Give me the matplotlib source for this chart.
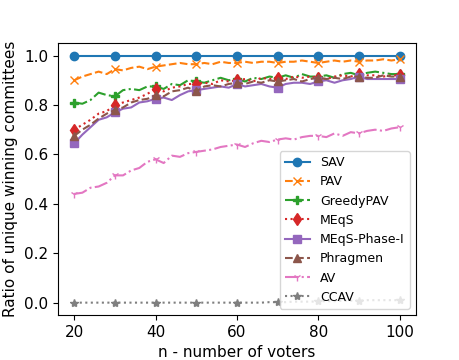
import numpy as np
import matplotlib
matplotlib.use("Agg")
import matplotlib.pyplot as plt

# number of voters (x axis)
n_voters = list(range(20, 101, 2))

# ratio of unique winning committees per rule
sav = [1.0, 1.0, 1.0, 1.0, 1.0, 1.0, 1.0, 1.0, 1.0, 1.0,
       1.0, 1.0, 1.0, 1.0, 1.0, 1.0, 1.0, 1.0, 1.0, 1.0,
       1.0, 1.0, 1.0, 1.0, 1.0, 1.0, 1.0, 1.0, 1.0, 1.0,
       1.0, 1.0, 1.0, 1.0, 1.0, 1.0, 1.0, 1.0, 1.0, 1.0, 1.0]
pav = [0.90, 0.915, 0.925, 0.935, 0.925, 0.945, 0.94, 0.95, 0.955, 0.945,
       0.955, 0.96, 0.965, 0.97, 0.965, 0.965, 0.97, 0.965, 0.975, 0.97,
       0.97, 0.975, 0.97, 0.975, 0.975, 0.97, 0.975, 0.975, 0.98, 0.975,
       0.97, 0.975, 0.98, 0.975, 0.98, 0.975, 0.98, 0.98, 0.985, 0.98, 0.985]
greedy_pav = [0.81, 0.805, 0.82, 0.85, 0.84, 0.835, 0.86, 0.865, 0.86, 0.875,
              0.875, 0.865, 0.885, 0.88, 0.9, 0.895, 0.89, 0.9, 0.91, 0.9,
              0.905, 0.895, 0.91, 0.905, 0.915, 0.91, 0.92, 0.91, 0.925, 0.915,
              0.915, 0.92, 0.91, 0.925, 0.93, 0.92, 0.93, 0.935, 0.93, 0.925, 0.925]
meqs = [0.70, 0.72, 0.74, 0.765, 0.775, 0.80, 0.81, 0.82, 0.83, 0.845,
        0.865, 0.855, 0.87, 0.875, 0.885, 0.885, 0.89, 0.885, 0.90, 0.895,
        0.90, 0.905, 0.895, 0.91, 0.905, 0.91, 0.905, 0.915, 0.91, 0.915,
        0.91, 0.905, 0.915, 0.92, 0.915, 0.925, 0.92, 0.92, 0.915, 0.92, 0.92]
meqs_phase1 = [0.645, 0.68, 0.71, 0.74, 0.75, 0.77, 0.785, 0.79, 0.81, 0.815,
               0.825, 0.83, 0.82, 0.84, 0.855, 0.86, 0.865, 0.87, 0.875, 0.87,
               0.885, 0.875, 0.88, 0.885, 0.875, 0.87, 0.885, 0.89, 0.89, 0.885,
               0.895, 0.90, 0.89, 0.90, 0.905, 0.915, 0.905, 0.905, 0.905, 0.905, 0.905]
phragmen = [0.675, 0.70, 0.72, 0.745, 0.765, 0.78, 0.79, 0.81, 0.82, 0.825,
            0.84, 0.835, 0.855, 0.86, 0.87, 0.855, 0.875, 0.88, 0.875, 0.885,
            0.89, 0.885, 0.895, 0.89, 0.90, 0.895, 0.90, 0.905, 0.895, 0.905,
            0.91, 0.905, 0.91, 0.905, 0.915, 0.915, 0.91, 0.91, 0.92, 0.915, 0.915]
av = [0.44, 0.445, 0.465, 0.47, 0.485, 0.515, 0.515, 0.535, 0.545, 0.57,
      0.58, 0.565, 0.595, 0.59, 0.605, 0.61, 0.615, 0.62, 0.63, 0.635,
      0.64, 0.63, 0.645, 0.655, 0.65, 0.66, 0.665, 0.66, 0.67, 0.675,
      0.675, 0.67, 0.685, 0.675, 0.69, 0.685, 0.695, 0.70, 0.695, 0.705, 0.71]
ccav = [0.0, 0.0, 0.0, 0.0, 0.0, 0.0, 0.0, 0.0, 0.0, 0.0,
        0.0, 0.0, 0.0, 0.0, 0.0, 0.0, 0.0, 0.0, 0.0, 0.0,
        0.0, 0.0, 0.0, 0.0, 0.002, 0.002, 0.002, 0.004, 0.004, 0.004,
        0.005, 0.006, 0.006, 0.008, 0.008, 0.008, 0.01, 0.01, 0.01, 0.01, 0.01]

series = [
    ("SAV", sav, "o", "-"),
    ("PAV", pav, "x", "--"),
    ("GreedyPAV", greedy_pav, "P", "-."),
    ("MEqS", meqs, "d", ":"),
    ("MEqS-Phase-I", meqs_phase1, "s", "-"),
    ("Phragmen", phragmen, "^", "--"),
    ("AV", av, "1", "-."),
    ("CCAV", ccav, "*", ":"),
]

fig, ax = plt.subplots(figsize=(4.6, 3.6), dpi=100)
fig.subplots_adjust(left=0.126, right=0.904, bottom=0.125, top=0.88)

for name, vals, marker, ls in series:
    ax.plot(n_voters, vals, marker=marker, linestyle=ls, markevery=5, label=name)

ax.set_xlabel("n - number of voters", fontsize=11)
ax.set_ylabel("Ratio of unique winning committees", fontsize=11)
ax.tick_params(labelsize=11)
ax.legend(loc="lower right", fontsize=9)

fig.savefig("out.png")
